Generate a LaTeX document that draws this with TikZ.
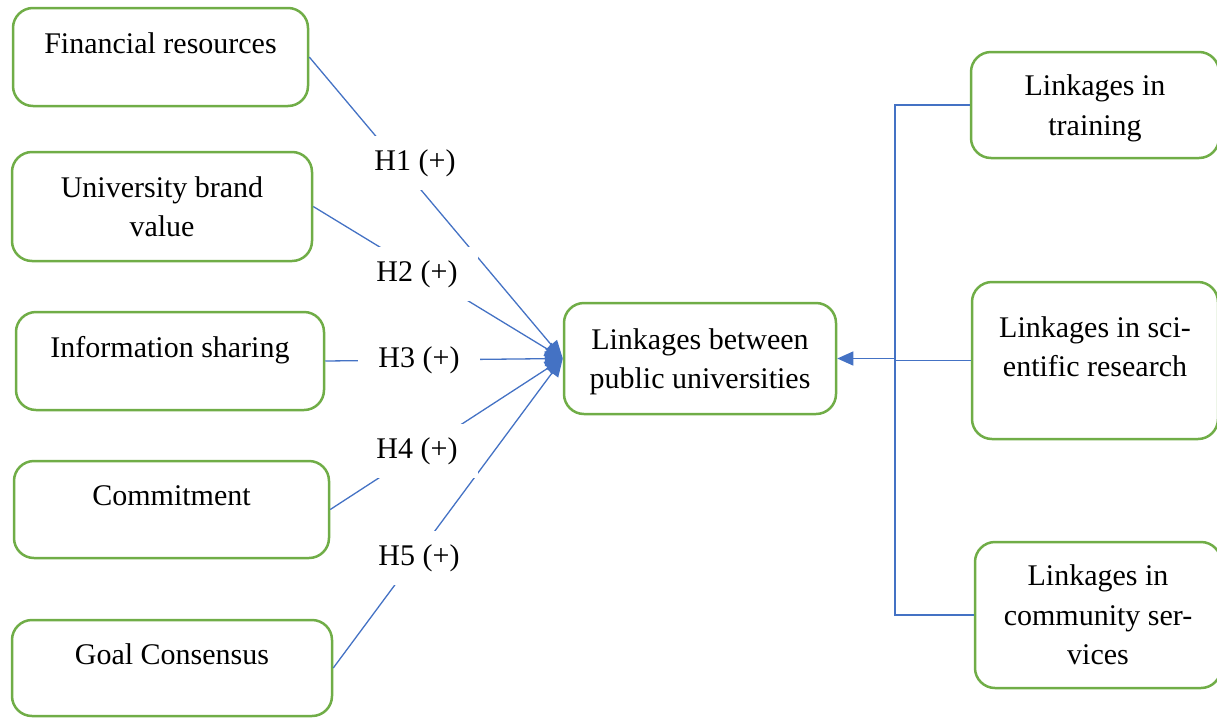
\documentclass[tikz,border=0pt]{standalone}
\usepackage{fontspec}
\setmainfont{Liberation Serif}
\usetikzlibrary{arrows.meta}
\definecolor{boxgreen}{HTML}{70AD47}
\definecolor{linkblue}{HTML}{4472C4}
\tikzset{%
    factor/.style={%
        draw=boxgreen, line width=2.5pt, rounded corners=20pt,
        inner sep=0pt, align=center,
        font=\fontsize{30}{39.5}\selectfont
    },
    topline/.style={text depth=28pt},
    hyp/.style={%
        fill=white, inner xsep=20pt, inner ysep=13pt,
        font=\fontsize{30}{39.5}\selectfont
    },
    link/.style={linkblue, line width=1.3pt},
    tip/.style={-{Triangle[length=18pt,width=15pt]}}
}

\begin{document}
\begin{tikzpicture}[x=1pt,y=-1pt]
    \useasboundingbox (0,0) rectangle (1217,718);
    % antecedents
    \node[factor, topline, minimum width=295pt, minimum height=98pt] (fin) at (160.5,57) {Financial resources};
    \node[factor, minimum width=300pt, minimum height=109pt] (brand) at (162,206.5) {University brand\\value};
    \node[factor, topline, minimum width=308pt, minimum height=98pt] (info) at (170,361) {Information sharing};
    \node[factor, topline, minimum width=315pt, minimum height=97pt] (commit) at (171.5,509.5) {Commitment};
    \node[factor, topline, minimum width=320pt, minimum height=96pt] (goal) at (172,668) {Goal Consensus};
    % outcome and its dimensions
    \node[factor, text depth=0pt, minimum width=272pt, minimum height=111pt] (ties) at (700,358.5) {Linkages between\\public universities};
    \node[factor, text depth=0pt, minimum width=248pt, minimum height=106pt] (train) at (1095,105) {Linkages in\\training};
    \node[factor, topline, minimum width=246pt, minimum height=157pt] (sci) at (1095,360.5) {Linkages in sci-\\entific research};
    \node[factor, text depth=-6pt, minimum width=246pt, minimum height=146pt] (comm) at (1098,615) {Linkages in\\community ser-\\vices};

    \foreach \src in {fin,brand,info,commit,goal}
        \draw[link, tip] (\src.east) -- (ties.west);

    \node[hyp] (h1) at (415,163) {H1 (+)};
    \node[hyp] (h2) at (417,274) {H2 (+)};
    \node[hyp] (h3) at (419,360) {H3 (+)};
    \node[hyp] (h4) at (417,451) {H4 (+)};
    \node[hyp] (h5) at (419,558) {H5 (+)};

    \coordinate (bus) at (895,0);
    \draw[link] (train.west) -- (train.west -| bus) -- (comm.west -| bus) -- (comm.west);
    \draw[link] (sci.west) -- (sci.west -| bus);
    \draw[link, -{Triangle[length=16pt,width=14pt]}] (ties.east -| bus) -- (ties.east);
\end{tikzpicture}
\end{document}
